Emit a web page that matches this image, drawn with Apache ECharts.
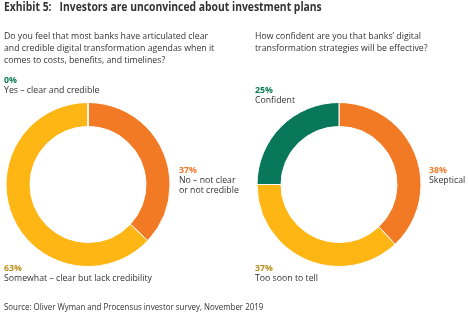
<!DOCTYPE html>
<html><head><meta charset="utf-8">
<script src="https://cdn.jsdelivr.net/npm/echarts@6/dist/echarts.min.js"></script>
<style>html,body{margin:0;padding:0;background:#fff}#c{width:469px;height:323px}</style>
</head><body><div id="c"></div>
<script>
const titleText = 'Exhibit 5:   Investors are unconvinced about investment plans';
const leftQuestion = ['Do you feel that most banks have articulated clear','and credible digital transformation agendas when it','comes to costs, benefits, and timelines?'];
const rightQuestion = ['How confident are you that banks\u2019 digital','transformation strategies will be effective?'];
const leftCategories = ['No \u2013 not clear\nor not credible','Somewhat \u2013 clear but lack credibility','Yes \u2013 clear and credible'];
const leftValues = [37, 63, 0];
const rightCategories = ['Skeptical','Too soon to tell','Confident'];
const rightValues = [38, 37, 25];
const sourceText = 'Source: Oliver Wyman and Procensus investor survey, November 2019';

const ORANGE = '#F27A24', YELLOW = '#FDB614', GREEN = '#08775A';
const sliceColors = [ORANGE, YELLOW, GREEN];
const labelColors = ['#EE7A2A', '#B98F1C', '#0A7A55'];
const FONT = '"Open Sans", sans-serif';
const TXT = '#333333';

// label anchor positions (left x, y of percentage line)
const leftLabelPos = [[179, 171.5], [4, 269], [4, 81]];
const rightLabelPos = [[429, 171.5], [255, 269], [255, 91]];

const graphics = [];
function txt(x, y, text, font, fill, sx, extra){
  graphics.push(Object.assign({type:'text', x:x, y:y, scaleX:sx, originX:0, originY:0,
    style:Object.assign({text:text, font:font, fill:fill, textVerticalAlign:'top'}, extra||{})}));
}
txt(4, 2, titleText, 'bold 11.5px '+FONT, TXT, 0.9);
txt(4, 30, leftQuestion.join('\n'), '9.5px '+FONT, TXT, 0.92, {lineHeight:12.3});
txt(255, 30, rightQuestion.join('\n'), '9.5px '+FONT, TXT, 0.92, {lineHeight:12.3});
function addLabels(cats, vals, pos){
  cats.forEach((c,i)=>{
    txt(pos[i][0], pos[i][1]-6, vals[i]+'%', 'bold 9.5px '+FONT, labelColors[i], 0.92);
    txt(pos[i][0], pos[i][1]+4, c, '9.5px '+FONT, TXT, 0.92, {lineHeight:10});
  });
}
addLabels(leftCategories, leftValues, leftLabelPos);
addLabels(rightCategories, rightValues, rightLabelPos);
txt(4, 303, sourceText, '9px '+FONT, TXT, 0.88);

function pieData(cats, vals){
  return cats.map((c,i)=>({name:c, value:vals[i], itemStyle:{color:sliceColors[i]}}));
}
const chart = echarts.init(document.getElementById('c'), null, {renderer:'canvas'});
chart.setOption({
  animation:false,
  backgroundColor:'#fff',
  series:[
    {type:'pie', center:[88,184.5], radius:[58,82], startAngle:90, clockwise:true, label:{show:false}, labelLine:{show:false},
     itemStyle:{borderColor:'#fff', borderWidth:1}, emphasis:{disabled:true}, data:pieData(leftCategories,leftValues)},
    {type:'pie', center:[339,184.5], radius:[58,82], startAngle:90, clockwise:true, label:{show:false}, labelLine:{show:false},
     itemStyle:{borderColor:'#fff', borderWidth:1}, emphasis:{disabled:true}, data:pieData(rightCategories,rightValues)}
  ],
  graphic: graphics
});
</script></body></html>
